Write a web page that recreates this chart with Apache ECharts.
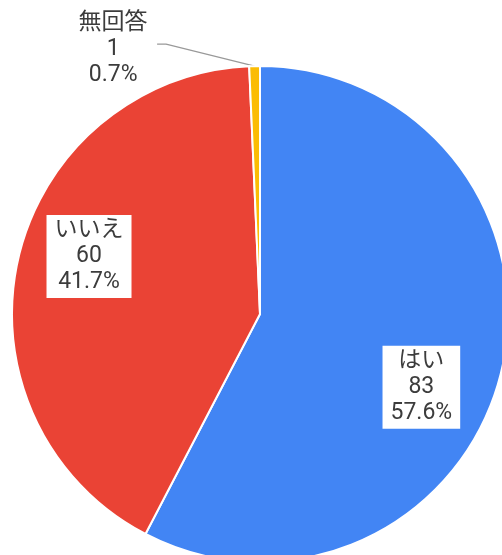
<!DOCTYPE html>
<html><head><meta charset="utf-8">
<script src="https://cdn.jsdelivr.net/npm/echarts@6/dist/echarts.min.js"></script>
<style>html,body{margin:0;padding:0;background:#fff}#c{width:502px;height:555px}</style>
</head><body><div id="c"></div>
<script>
const categories = ['はい', 'いいえ', '無回答'];
const values = [83, 60, 1];
const colors = ['#4285F4', '#EA4335', '#FBBC04'];

const FONT = 'Roboto, "Noto Sans CJK JP", sans-serif';
const TEXT = '#3c3c3c';
const boxLabel = (offset) => ({
  position: 'inside',
  offset: offset,
  formatter: '{b}\n{c}\n{d}%',
  backgroundColor: '#ffffff',
  padding: [3, 8, 2, 8],
  align: 'center'
});
const labelCfg = [
  boxLabel([38, 43]),
  boxLabel([-47, -30]),
  {
    position: 'outside',
    padding: [10, 4, 0, 0],
    formatter: '{t|{b}}\n{t|{c}}\n{t|{d}%}',
    rich: { t: { fontFamily: FONT, fontSize: 23, lineHeight: 26, color: TEXT, width: 70, align: 'center' } }
  }
];

const data = categories.map((name, i) => ({
  name: name,
  value: values[i],
  itemStyle: { color: colors[i] },
  label: labelCfg[i],
  labelLine: { show: i === 2 }
}));

const chart = echarts.init(document.getElementById('c'), null, { renderer: 'canvas' });
chart.setOption({
  animation: false,
  series: [{
    type: 'pie',
    center: [260, 314],
    radius: [0, 248],
    startAngle: 90,
    clockwise: true,
    percentPrecision: 1,
    avoidLabelOverlap: false,
    itemStyle: { borderColor: '#ffffff', borderWidth: 2 },
    label: {
      show: true,
      color: TEXT,
      fontFamily: FONT,
      fontSize: 23,
      lineHeight: 26
    },
    labelLine: {
      length: 22,
      length2: 97,
      lineStyle: { color: '#999999', width: 1.3 }
    },
    labelLayout: function (p) {
      if (p.dataIndex !== 2 || !p.labelLinePoints) return {};
      const pts = p.labelLinePoints;
      return { labelLinePoints: [pts[0], [pts[2][0] + 9, pts[2][1]], pts[2]] };
    },
    data: data
  }]
});
</script></body></html>
